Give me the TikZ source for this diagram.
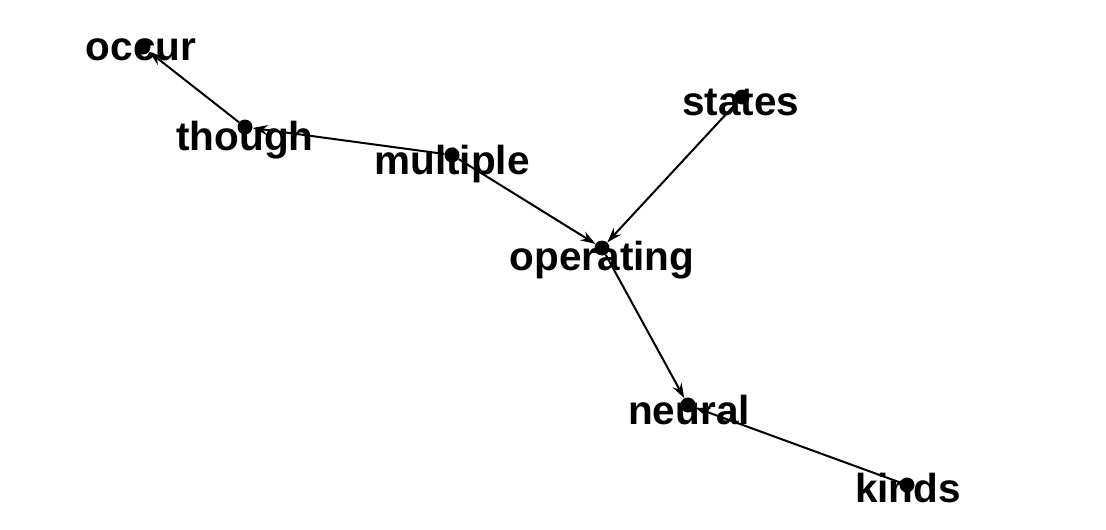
\documentclass[tikz,border=0pt]{standalone}
\usepackage{fontspec}
\setmainfont{Liberation Sans}
\usetikzlibrary{arrows.meta}

\begin{document}
\begin{tikzpicture}[x=1pt,y=-1pt]
\tikzset{dot/.style={circle,fill=black,inner sep=0pt,minimum size=15pt}}
\tikzset{word/.style={anchor=base,inner sep=0pt,font=\bfseries\fontsize{40.5}{48}\selectfont}}
\tikzset{edge/.style={line width=2pt,-{Stealth[length=15pt,width=10pt]}}}
\useasboundingbox (0,0) rectangle (1106,530);
% words
\node[word] (occur-w) at (141,60) {occur};
\node[word] (though-w) at (245,150) {though};
\node[word] (multiple-w) at (452,174) {multiple};
\node[word] (states-w) at (741,115) {states};
\node[word] (operating-w) at (602,270) {operating};
\node[word] (neural-w) at (689,424) {neural};
\node[word] (kinds-w) at (908,502) {kinds};
% vertices
\node[dot] (occur) at (143,47) {};
\node[dot] (though) at (245,127) {};
\node[dot] (multiple) at (452,155) {};
\node[dot] (states) at (742,97) {};
\node[dot] (operating) at (602,248) {};
\node[dot] (neural) at (688,405) {};
\node[dot] (kinds) at (907,485) {};
% edges
\draw[edge] (though) -- (occur);
\draw[edge] (multiple) -- (though);
\draw[edge] (multiple) -- (operating);
\draw[edge] (states) -- (operating);
\draw[edge] (operating) -- (neural);
\draw[edge] (kinds) -- (neural);
\end{tikzpicture}
\end{document}
